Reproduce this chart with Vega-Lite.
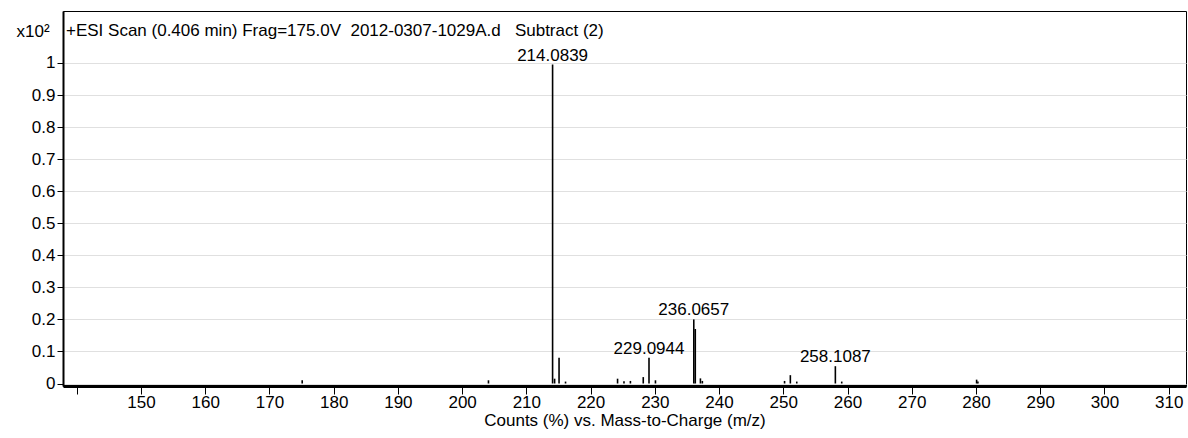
{
  "$schema": "https://vega.github.io/schema/vega-lite/v6.json",
  "width": 1123,
  "height": 375,
  "autosize": "none",
  "padding": {"left": 63, "top": 11, "right": 2, "bottom": 52},
  "background": "white",
  "config": {
    "font": "Liberation Sans",
    "view": {"stroke": "#000000", "strokeWidth": 1},
    "axisY": {
      "grid": true,
      "gridColor": "#e0e0e0",
      "domainColor": "#000000",
      "domainWidth": 2,
      "tickColor": "#000000",
      "tickSize": 6,
      "labelFontSize": 17,
      "labelColor": "#000000",
      "labelPadding": 2,
      "labelOverlap": false,
      "labelBound": false,
      "titleAngle": 0,
      "titleX": -47,
      "titleY": 20,
      "titleAlign": "left",
      "titleBaseline": "middle",
      "titleFontSize": 17,
      "titleFontWeight": "normal",
      "titleColor": "#000000"
    },
    "axisX": {
      "grid": false,
      "domainColor": "#000000",
      "domainWidth": 3,
      "tickColor": "#000000",
      "tickSize": 8,
      "labelFontSize": 17,
      "labelColor": "#000000",
      "labelPadding": 0,
      "labelOverlap": false,
      "titleFontSize": 17,
      "titleFontWeight": "normal",
      "titleColor": "#000000",
      "titlePadding": 2
    }
  },
  "title": {
    "text": "+ESI Scan (0.406 min) Frag=175.0V\u00a0\u00a02012-0307-1029A.d\u00a0\u00a0\u00a0Subtract (2)",
    "anchor": "start",
    "frame": "group",
    "orient": "top",
    "offset": -29,
    "dx": 3,
    "fontSize": 17,
    "fontWeight": "normal",
    "color": "#000000"
  },
  "datasets": {
    "peaks": [
      {"mz": 175.1, "intensity": 0.01},
      {"mz": 204.1, "intensity": 0.01},
      {"mz": 214.0839, "intensity": 0.995},
      {"mz": 214.4, "intensity": 0.015},
      {"mz": 215.09, "intensity": 0.08},
      {"mz": 216.1, "intensity": 0.006},
      {"mz": 224.2, "intensity": 0.015},
      {"mz": 225.2, "intensity": 0.007},
      {"mz": 226.2, "intensity": 0.008},
      {"mz": 228.2, "intensity": 0.02},
      {"mz": 229.0944, "intensity": 0.08},
      {"mz": 230.1, "intensity": 0.01},
      {"mz": 236.0657, "intensity": 0.2},
      {"mz": 236.3, "intensity": 0.17},
      {"mz": 237.1, "intensity": 0.016},
      {"mz": 237.4, "intensity": 0.008},
      {"mz": 250.2, "intensity": 0.008},
      {"mz": 251.1, "intensity": 0.026},
      {"mz": 252.1, "intensity": 0.006},
      {"mz": 258.1087, "intensity": 0.054},
      {"mz": 259.1, "intensity": 0.006},
      {"mz": 280.1, "intensity": 0.012},
      {"mz": 280.3, "intensity": 0.006}
    ],
    "labels": [
      {"mz": 214.0839, "intensity": 0.995, "label": "214.0839"},
      {"mz": 229.0944, "intensity": 0.08, "label": "229.0944"},
      {"mz": 236.0657, "intensity": 0.2, "label": "236.0657"},
      {"mz": 258.1087, "intensity": 0.054, "label": "258.1087"}
    ],
    "grid": [
      {"mz": 150}, {"mz": 160}, {"mz": 170}, {"mz": 180}, {"mz": 190},
      {"mz": 200}, {"mz": 210}, {"mz": 220}, {"mz": 230}, {"mz": 240},
      {"mz": 250}, {"mz": 260}, {"mz": 270}, {"mz": 280}, {"mz": 290},
      {"mz": 300}, {"mz": 310}
    ]
  },
  "encoding": {
    "x": {
      "field": "mz",
      "type": "quantitative",
      "scale": {"domain": [137.86, 312.7], "nice": false, "zero": false},
      "axis": {
        "title": "Counts (%) vs. Mass-to-Charge (m/z)",
        "values": [140, 150, 160, 170, 180, 190, 200, 210, 220, 230, 240, 250, 260, 270, 280, 290, 300, 310],
        "labelExpr": "datum.value == 140 ? '' : datum.label"
      }
    },
    "y": {
      "field": "intensity",
      "type": "quantitative",
      "scale": {"domain": [-0.0078, 1.1622], "nice": false, "zero": false},
      "axis": {
        "title": "x10²",
        "values": [0, 0.1, 0.2, 0.3, 0.4, 0.5, 0.6, 0.7, 0.8, 0.9, 1],
        "format": ".1~f"
      }
    }
  },
  "layer": [
    {
      "data": {"name": "grid"},
      "mark": {"type": "rule", "color": "#e0e0e0", "strokeWidth": 1},
      "encoding": {
        "y": {
          "datum": 0,
          "type": "quantitative",
          "axis": {
            "title": "x10²",
            "values": [0, 0.1, 0.2, 0.3, 0.4, 0.5, 0.6, 0.7, 0.8, 0.9, 1],
            "format": ".1~f"
          }
        },
        "y2": {"datum": 1.05}
      }
    },
    {
      "data": {"name": "peaks"},
      "mark": {"type": "rule", "color": "#000000", "strokeWidth": 1.6},
      "encoding": {
        "y2": {"datum": 0}
      }
    },
    {
      "data": {"name": "labels"},
      "mark": {"type": "text", "fontSize": 17, "color": "#000000", "baseline": "alphabetic", "dy": -4},
      "encoding": {
        "text": {"field": "label"}
      }
    }
  ]
}
